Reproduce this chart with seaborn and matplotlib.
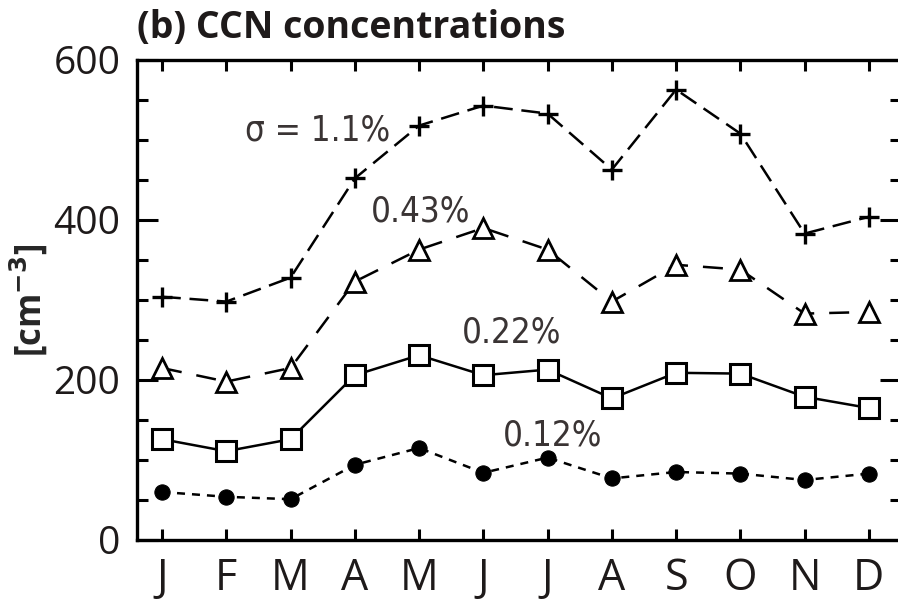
import matplotlib
matplotlib.use("Agg")
import matplotlib.pyplot as plt
from matplotlib.ticker import MultipleLocator
import seaborn as sns
import pandas as pd

months = ["J", "F", "M", "A", "M", "J", "J", "A", "S", "O", "N", "D"]

ccn_110 = [304, 298, 328, 452, 518, 543, 533, 463, 563, 508, 383, 404]
ccn_043 = [215, 198, 215, 323, 363, 390, 363, 298, 344, 338, 283, 285]
ccn_022 = [126, 111, 126, 206, 231, 206, 213, 177, 209, 208, 179, 165]
ccn_012 = [60, 54, 51, 94, 115, 84, 103, 77, 85, 83, 75, 83]

series_labels = ["σ = 1.1%", "0.43%", "0.22%", "0.12%"]
label_x = [2.42, 4.03, 5.44, 6.08]
label_y = [512, 410, 259, 131]

sns.set_theme(style="ticks")
plt.rcParams["font.family"] = ["Open Sans", "DejaVu Sans"]

fig = plt.figure(figsize=(8.98, 6.06), dpi=100)
ax = fig.add_axes([137 / 898, 1 - 540 / 606, (901 - 137) / 898, (540 - 60) / 606])

idx = list(range(len(months)))
df = pd.DataFrame({"m": idx, "s110": ccn_110, "s043": ccn_043,
                   "s022": ccn_022, "s012": ccn_012})

lw = 1.8
sns.lineplot(data=df, x="m", y="s110", ax=ax, color="black", lw=lw,
             linestyle=(0, (7.5, 3.5)), marker="+", markersize=15,
             markeredgewidth=2.4, markeredgecolor="black")
sns.lineplot(data=df, x="m", y="s043", ax=ax, color="black", lw=lw,
             linestyle=(0, (8, 6)), marker="^", markersize=14,
             markerfacecolor="white", markeredgewidth=2.0,
             markeredgecolor="black")
sns.lineplot(data=df, x="m", y="s022", ax=ax, color="black", lw=lw,
             linestyle="-", marker="s", markersize=14,
             markerfacecolor="white", markeredgewidth=2.2,
             markeredgecolor="black")
sns.lineplot(data=df, x="m", y="s012", ax=ax, color="black", lw=lw,
             linestyle=(0, (3.2, 2.8)), marker="o", markersize=11,
             markerfacecolor="black", markeredgecolor="black")

for t, x, y in zip(series_labels, label_x, label_y):
    ax.text(x, y, t, ha="center", va="center", fontsize=25,
            color="#3a3434", family="DejaVu Sans", fontstretch="condensed")

ax.set_xlim(-0.39, 11.5)
ax.set_ylim(0, 600)
ax.set_xticks(idx)
ax.set_xticklabels(months)
ax.yaxis.set_major_locator(MultipleLocator(200))
ax.yaxis.set_minor_locator(MultipleLocator(50))
ax.set_xlabel("")
ax.set_ylabel("[cm$^{\\mathbf{-3}}$]", fontsize=25, fontweight="bold")
ax.yaxis.set_label_coords(-0.114, 0.5)

ax.tick_params(axis="both", which="both", direction="in", top=True, right=True,
               width=2.2, color="black")
ax.tick_params(axis="y", which="major", length=15, labelsize=28, pad=12)
ax.tick_params(axis="y", which="minor", length=8)
ax.tick_params(axis="x", which="major", length=8, labelsize=31, pad=12)
for s in ax.spines.values():
    s.set_linewidth(2.4)
    s.set_color("black")

for lab in ax.get_xticklabels() + ax.get_yticklabels():
    lab.set_color("#1e1a1a")

fig.text(137 / 898, 1 - 28 / 606, "(b) CCN concentrations", fontsize=27,
         fontweight="bold", ha="left", va="center", color="#1e1a1a")

fig.savefig("out.png", dpi=100)
